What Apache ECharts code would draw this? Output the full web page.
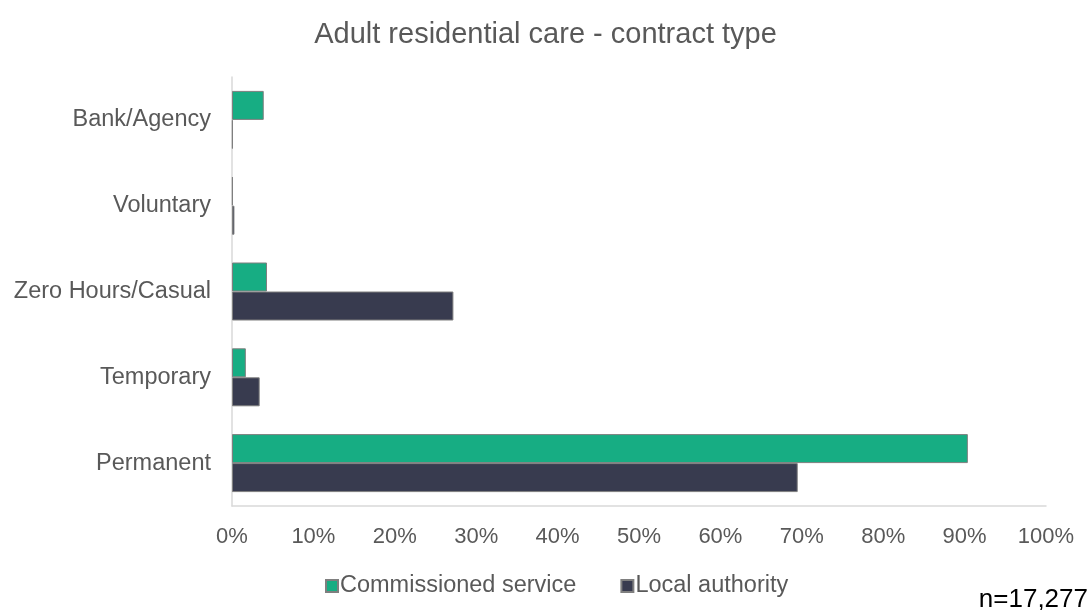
<!DOCTYPE html>
<html>
<head>
<meta charset="utf-8">
<script src="https://cdn.jsdelivr.net/npm/echarts@6/dist/echarts.min.js"></script>
<style>
  html, body { margin: 0; padding: 0; background: #fff; }
  #chart { width: 1091px; height: 610px; }
</style>
</head>
<body>
<div id="chart"></div>
<script>
// categories from bottom to top (ECharts draws the first category at the bottom)
const categories = ["Permanent", "Temporary", "Zero Hours/Casual", "Voluntary", "Bank/Agency"];
const commissioned = [0.904, 0.017, 0.043, 0.001, 0.039];
const localAuthority = [0.695, 0.034, 0.272, 0.003, 0.001];
const xTicks = [0, 0.1, 0.2, 0.3, 0.4, 0.5, 0.6, 0.7, 0.8, 0.9, 1];

const font = "Liberation Sans, Arial, sans-serif";
const grey = "#595959";

const chart = echarts.init(document.getElementById("chart"));
chart.setOption({
  animation: false,
  textStyle: { fontFamily: font },
  title: {
    text: "Adult residential care - contract type",
    left: "center",
    top: 15,
    textStyle: { fontSize: 29, fontWeight: "normal", color: grey, fontFamily: font }
  },
  grid: { left: 232, right: 45, top: 77, bottom: 104 },
  legend: {
    data: ["Commissioned service", "Local authority"],
    top: 569,
    left: 320,
    icon: "rect",
    itemWidth: 12,
    itemHeight: 12,
    itemGap: 44,
    textStyle: { fontSize: 23.5, color: grey, padding: [0, 0, 0, -3] }
  },
  xAxis: {
    type: "value",
    min: 0,
    max: 1,
    interval: 0.1,
    splitLine: { show: false },
    axisLine: { show: true, lineStyle: { color: "#d9d9d9", width: 1.5 } },
    axisTick: { show: false },
    axisLabel: {
      margin: 20,
      fontSize: 22,
      color: grey,
      formatter: function (v) {
        const t = xTicks.find(function (x) { return Math.abs(x - v) < 1e-9; });
        return Math.round((t !== undefined ? t : v) * 100) + "%";
      }
    }
  },
  yAxis: {
    type: "category",
    data: categories,
    axisLine: { show: true, lineStyle: { color: "#d9d9d9", width: 1.5 } },
    axisTick: { show: false },
    axisLabel: { margin: 21, fontSize: 23.5, color: grey }
  },
  series: [
    {
      name: "Commissioned service",
      type: "bar",
      data: commissioned,
      barWidth: 29,
      barGap: "0%",
      itemStyle: { color: "#17ad83", borderColor: "#7f7f7f", borderWidth: 1 }
    },
    {
      name: "Local authority",
      type: "bar",
      data: localAuthority,
      barWidth: 29,
      barGap: "0%",
      itemStyle: { color: "#383b4f", borderColor: "#7f7f7f", borderWidth: 1 }
    }
  ],
  graphic: [
    {
      type: "text",
      right: 3,
      top: 587,
      style: { text: "n=17,277", fontSize: 26, fill: "#000", fontFamily: font }
    }
  ]
});
</script>
</body>
</html>
